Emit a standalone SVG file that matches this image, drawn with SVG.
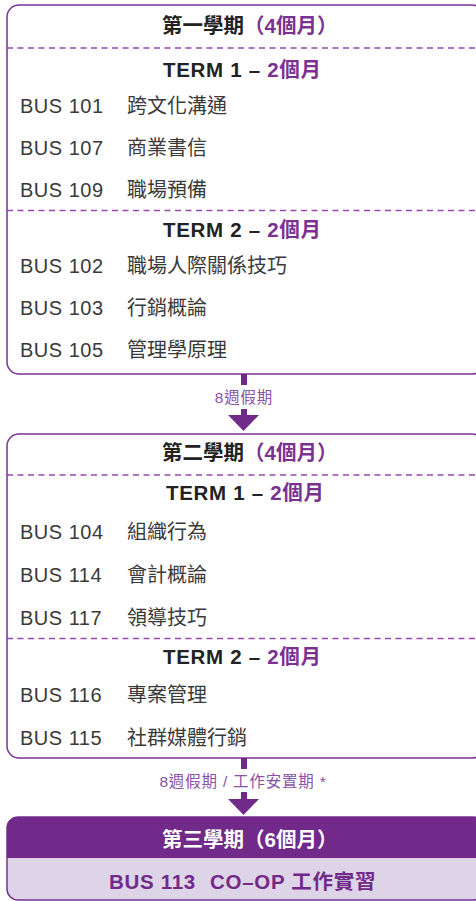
<svg xmlns="http://www.w3.org/2000/svg" width="476" height="901" viewBox="0 0 476 901">
<style>
.box{fill:#ffffff;stroke:#7a3192;stroke-width:1.5}
.dash{stroke:#9647b0;stroke-width:1.5;stroke-dasharray:6 4.5;fill:none}
.t{font-family:"Liberation Sans","Noto Sans CJK TC",sans-serif}
.title{font-size:20.5px;font-weight:bold;fill:#222222}
.term{font-size:20.5px;font-weight:bold;fill:#222222;letter-spacing:0.7px}
.pu{fill:#7a3192}
.code{font-size:20px;fill:#3a3a3a;letter-spacing:0.5px}
.name{font-size:20px;fill:#3a3a3a;font-family:"Noto Sans CJK TC",sans-serif}
.lbl{font-size:15.5px;fill:#8a52a6;letter-spacing:0.8px}
.stem{fill:#722a8a}
</style>
<g id="connectors">
<rect class="stem" x="241" y="374" width="6" height="11"/>
<rect class="stem" x="241" y="409" width="6" height="7"/>
<polygon class="stem" points="228,415 259,415 243.5,431"/>
<text class="t lbl" x="244" y="403" text-anchor="middle">8週假期</text>
<rect class="stem" x="241" y="758" width="6" height="11"/>
<rect class="stem" x="241" y="792" width="6" height="7"/>
<polygon class="stem" points="228,799 259,799 243.5,815"/>
<text class="t lbl" x="243" y="787" text-anchor="middle">8週假期 / 工作安置期 *</text>
</g>
<g id="semester1">
<rect class="box" x="7" y="5" width="477" height="369" rx="12"/>
<text class="t title" x="162" y="33">第一學期<tspan class="pu">（4個月）</tspan></text>
<line class="dash" x1="7" y1="48" x2="484" y2="48"/>
<text class="t term" x="163" y="77">TERM 1 – <tspan class="pu">2個月</tspan></text>
<text class="t code" x="20" y="113">BUS 101</text><text class="name" x="127" y="113">跨文化溝通</text>
<text class="t code" x="20" y="155">BUS 107</text><text class="name" x="127" y="155">商業書信</text>
<text class="t code" x="20" y="197">BUS 109</text><text class="name" x="127" y="197">職場預備</text>
<line class="dash" x1="7" y1="210.5" x2="484" y2="210.5"/>
<text class="t term" x="163" y="237">TERM 2 – <tspan class="pu">2個月</tspan></text>
<text class="t code" x="20" y="273">BUS 102</text><text class="name" x="127" y="273">職場人際關係技巧</text>
<text class="t code" x="20" y="315">BUS 103</text><text class="name" x="127" y="315">行銷概論</text>
<text class="t code" x="20" y="357">BUS 105</text><text class="name" x="127" y="357">管理學原理</text>
</g>
<g id="semester2">
<rect class="box" x="7" y="434" width="477" height="324" rx="12"/>
<text class="t title" x="162" y="460">第二學期<tspan class="pu">（4個月）</tspan></text>
<line class="dash" x1="7" y1="475" x2="484" y2="475"/>
<text class="t term" x="166" y="500">TERM 1 – <tspan class="pu">2個月</tspan></text>
<text class="t code" x="20" y="539">BUS 104</text><text class="name" x="127" y="539">組織行為</text>
<text class="t code" x="20" y="582">BUS 114</text><text class="name" x="127" y="582">會計概論</text>
<text class="t code" x="20" y="625">BUS 117</text><text class="name" x="127" y="625">領導技巧</text>
<line class="dash" x1="7" y1="638.5" x2="484" y2="638.5"/>
<text class="t term" x="163" y="664">TERM 2 – <tspan class="pu">2個月</tspan></text>
<text class="t code" x="20" y="702">BUS 116</text><text class="name" x="127" y="702">專案管理</text>
<text class="t code" x="20" y="745">BUS 115</text><text class="name" x="127" y="745">社群媒體行銷</text>
</g>
<g id="semester3">
<rect x="7" y="817" width="477" height="83" rx="11" fill="#ddd4e8" stroke="#7a3192" stroke-width="1.5"/>
<path d="M7,858 V828 A11,11 0 0 1 18,817 H473 A11,11 0 0 1 484,828 V858 Z" fill="#722a8a"/>
<text class="t title" x="162" y="847" style="fill:#ffffff">第三學期（6個月）</text>
<text class="t term" x="109" y="889" style="fill:#722a8a">BUS 113<tspan x="210">CO–OP 工作實習</tspan></text>
</g>
</svg>
